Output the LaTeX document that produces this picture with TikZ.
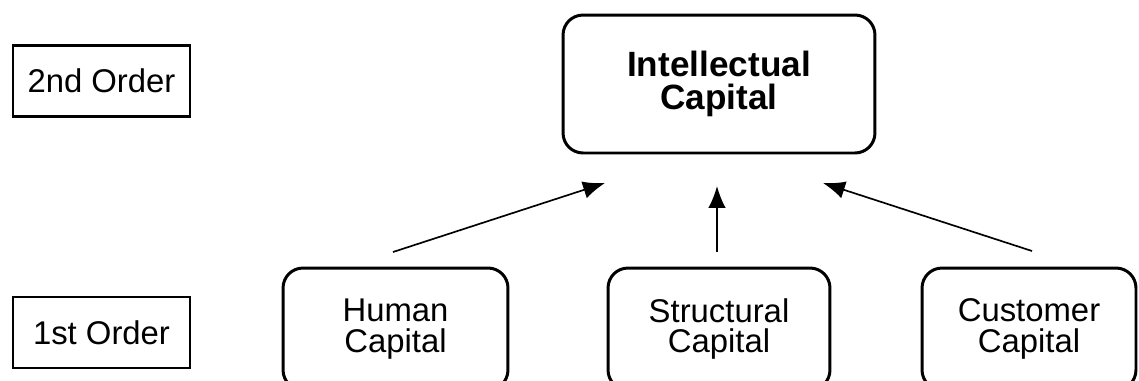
\documentclass[tikz,border=0pt]{standalone}
\usepackage{fontspec}
\setmainfont{Liberation Sans}
\usetikzlibrary{arrows.meta}

\begin{document}
\begin{tikzpicture}[x=0.02cm, y=-0.02cm]
\tikzset{ordre/.style={draw, line width=1.2pt, minimum width=3.54cm, minimum height=1.42cm, inner sep=0pt, font=\fontsize{18.7}{17.5}\selectfont}}
\tikzset{capnoeud/.style={draw, line width=1.7pt, rounded corners=0.4cm, align=center, inner sep=0pt, minimum height=2.44cm, font=\fontsize{18.7}{17.5}\selectfont}}
\tikzset{fleche/.style={line width=0.95pt, -{Latex[length=12.5pt, width=10pt]}}}
\useasboundingbox (0,0) rectangle (1139,380);
\clip (0,0) rectangle (1139,380);
\node[ordre] (O2) at (101.5, 81) {2nd Order};
\node[ordre] (O1) at (101.5, 332.5) {1st Order};
\node[capnoeud, minimum width=6.24cm, minimum height=2.76cm, font=\fontsize{20}{18.5}\selectfont\bfseries] (IC) at (719, 84) {Intellectual\\Capital};
\node[capnoeud, minimum width=4.5cm] (HC) at (395.5, 329) {Human\\Capital};
\node[capnoeud, minimum width=4.44cm] (SC) at (719, 329) {Structural\\Capital};
\node[capnoeud, minimum width=4.28cm] (CC) at (1029, 329) {Customer\\Capital};
\coordinate (HCbas) at (393, 252);
\coordinate (HCtete) at (605, 183);
\coordinate (SCbas) at (717, 252);
\coordinate (SCtete) at (717, 186);
\coordinate (CCbas) at (1032, 251);
\coordinate (CCtete) at (823, 183);
\draw[fleche] (HCbas) -- (HCtete);
\draw[fleche] (SCbas) -- (SCtete);
\draw[fleche] (CCbas) -- (CCtete);
\end{tikzpicture}
\end{document}
